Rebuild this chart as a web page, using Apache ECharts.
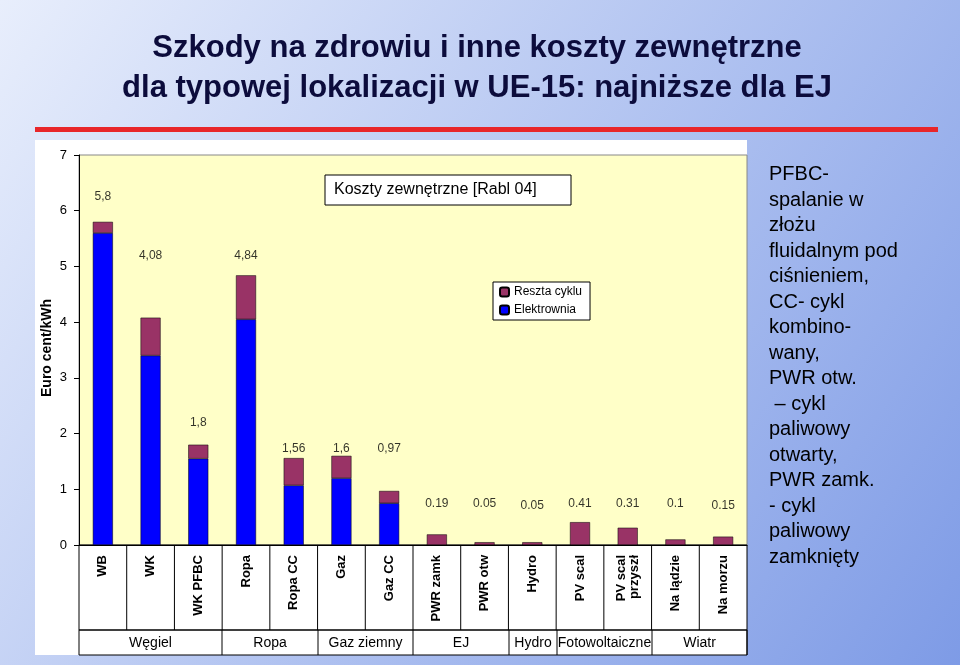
<!DOCTYPE html>
<html><head><meta charset="utf-8">
<script src="https://cdn.jsdelivr.net/npm/echarts@6/dist/echarts.min.js"></script>
<style>html,body{margin:0;padding:0;}#c{width:960px;height:665px;}</style>
</head><body><div id="c"></div>
<script>
const categories = ['WB','WK','WK PFBC','Ropa','Ropa CC','Gaz','Gaz CC','PWR zamk','PWR otw','Hydro','PV scal','PV scal\nprzyszł','Na lądzie','Na morzu'];
const elektrownia = [5.6, 3.4, 1.55, 4.05, 1.07, 1.2, 0.75, 0, 0, 0, 0, 0, 0, 0];
const resztaCyklu = [0.2, 0.68, 0.25, 0.79, 0.49, 0.4, 0.22, 0.19, 0.05, 0.05, 0.41, 0.31, 0.1, 0.15];
const totalLabels = ['5,8','4,08','1,8','4,84','1,56','1,6','0,97','0.19','0.05','0.05','0.41','0.31','0.1','0.15'];
const labelY = [6.25, 5.2, 2.2, 5.2, 1.72, 1.72, 1.72, 0.75, 0.75, 0.7, 0.75, 0.75, 0.75, 0.7];
const groups = [['Węgiel',79,222],['Ropa',222,318],['Gaz ziemny',318,413],['EJ',413,509],['Hydro',509,557],['Fotowoltaiczne',557,652],['Wiatr',652,747]];

const chart = echarts.init(document.getElementById('c'));
const F = 'Liberation Sans, Arial, sans-serif';
const graphic = [
  {type:'rect', shape:{x:35,y:140,width:712,height:515}, style:{fill:'#fff'}, z:-10},
  {type:'rect', shape:{x:35,y:127,width:903,height:5}, style:{fill:'#e8262a'}},
  {type:'text', x:477, y:28, style:{text:'Szkody na zdrowiu i inne koszty zewnętrzne\ndla typowej lokalizacji w UE-15: najniższe dla EJ', font:'bold 31px '+F, fill:'#0c0c3c', align:'center', lineHeight:40}},
  {type:'rect', shape:{x:79,y:545,width:668,height:85}, style:{fill:'none',stroke:'#000',lineWidth:1}},
  {type:'rect', shape:{x:79,y:630,width:668,height:25}, style:{fill:'none',stroke:'#000',lineWidth:1}},
  {type:'rect', shape:{x:325,y:175,width:246,height:30}, style:{fill:'#fff',stroke:'#000',lineWidth:1}},
  {type:'text', x:334, y:182, style:{text:'Koszty zewnętrzne [Rabl 04]', font:'16px '+F, fill:'#000'}},
  {type:'text', x:40, y:348, rotation:Math.PI/2, style:{text:'Euro cent/kWh', font:'bold 14px '+F, fill:'#000', align:'center'}},
  {type:'text', x:769, y:162, style:{text:'PFBC-\nspalanie w\nzłożu\nfluidalnym pod\nciśnieniem,\nCC- cykl\nkombino-\nwany,\nPWR otw.\n – cykl\npaliwowy\notwarty,\nPWR zamk.\n- cykl\npaliwowy\nzamknięty', font:'20px '+F, fill:'#000', lineHeight:25.5}}
];
groups.forEach(g => {
  graphic.push({type:'line', shape:{x1:g[2],y1:630,x2:g[2],y2:655}, style:{stroke:'#000'}});
  graphic.push({type:'text', x:(g[1]+g[2])/2, y:636, style:{text:g[0], font:'14px '+F, fill:'#000', align:'center'}});
});
for (let i = 1; i < 14; i++) {
  const x = 79 + i * 668 / 14;
  graphic.push({type:'line', shape:{x1:x,y1:545,x2:x,y2:630}, style:{stroke:'#000'}});
}

chart.setOption({
  animation: false,
  backgroundColor: {type:'linear', x:0, y:0, x2:1, y2:1, colorStops:[{offset:0,color:'#e8eefc'},{offset:1,color:'#7e9be6'}]},
  grid: {left:79, right:213, top:155, bottom:120, backgroundColor:'#ffffc8', show:true, borderColor:'#888', borderWidth:1},
  legend: {
    data:['Reszta cyklu','Elektrownia'], orient:'vertical', left:493, top:282,
    backgroundColor:'#fff', borderColor:'#000', borderWidth:1, padding:[4,8,4,6],
    itemWidth:9, itemHeight:9, itemGap:6, textStyle:{fontSize:12, fontFamily:F, color:'#000'}
  },
  xAxis: {
    type:'category', data:categories,
    axisLine:{lineStyle:{color:'#000'}}, axisTick:{show:false},
    axisLabel:{rotate:90, interval:0, fontWeight:'bold', fontSize:13, fontFamily:F, color:'#000', margin:10, align:'right', verticalAlign:'middle'}
  },
  yAxis: {
    type:'value', min:0, max:7, interval:1,
    splitLine:{show:false}, axisLine:{show:true, lineStyle:{color:'#000'}}, axisTick:{show:true},
    axisLabel:{fontSize:13, fontFamily:F, color:'#000', margin:12}
  },
  series: [
    {name:'Elektrownia', type:'bar', stack:'a', data:elektrownia, barWidth:'42%', itemStyle:{color:'#0000ff', borderColor:'#000', borderWidth:0.5}},
    {name:'Reszta cyklu', type:'bar', stack:'a', data:resztaCyklu, itemStyle:{color:'#993366', borderColor:'#000', borderWidth:0.5}},
    {name:'labels', type:'scatter', data:labelY, symbolSize:0, silent:true,
     label:{show:true, position:'inside', fontSize:12, fontFamily:F, color:'#000', formatter:p => totalLabels[p.dataIndex]}}
  ],
  graphic: graphic
});
</script></body></html>
